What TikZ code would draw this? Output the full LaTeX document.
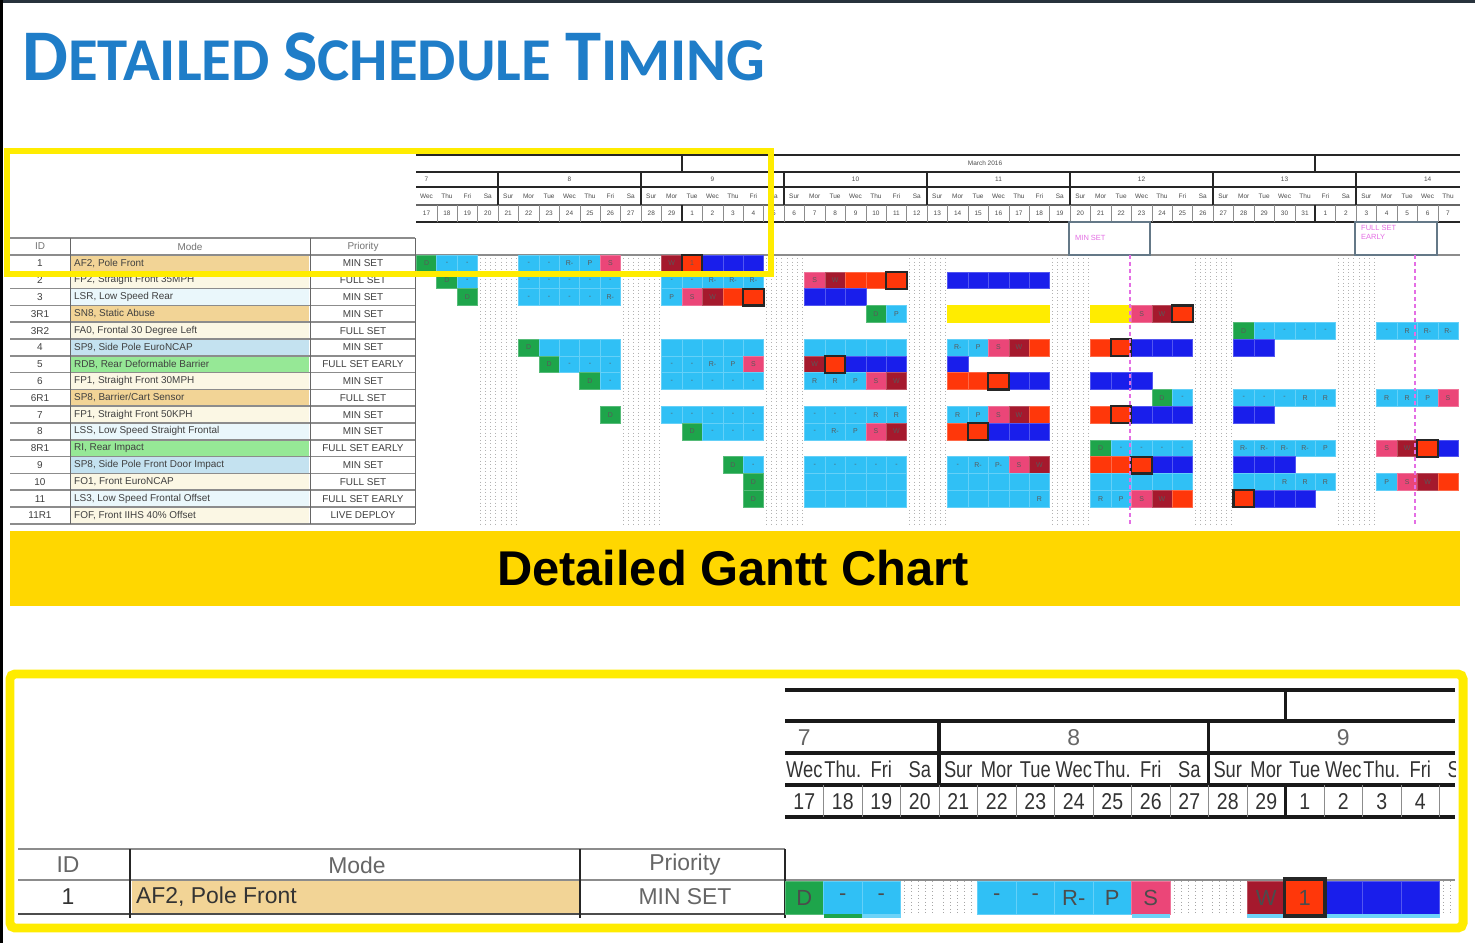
\documentclass[tikz,border=0pt]{standalone}
\usepackage{fontspec}
\setmainfont{Liberation Sans}
\newfontfamily\titlefont{Carlito}
\usetikzlibrary{calc}

\definecolor{titleblue}{RGB}{31,125,200}
\definecolor{hiyel}{RGB}{255,236,0}
\definecolor{banner}{RGB}{255,215,0}
\definecolor{edgegray}{RGB}{40,50,60}
\definecolor{barG}{RGB}{30,165,75}
\definecolor{barC}{RGB}{48,192,245}
\definecolor{barP}{RGB}{235,70,120}
\definecolor{barW}{RGB}{165,25,45}
\definecolor{barR}{RGB}{255,55,10}
\definecolor{barB}{RGB}{25,30,235}
\definecolor{barY}{RGB}{255,236,0}
\definecolor{tan}{RGB}{242,212,150}
\definecolor{cream}{RGB}{251,247,228}
\definecolor{paleblue}{RGB}{234,247,251}
\definecolor{ltblue}{RGB}{196,226,240}
\definecolor{ltgreen}{RGB}{150,232,150}
\definecolor{pinkmark}{RGB}{228,110,228}
\definecolor{boxgray}{RGB}{100,120,135}
\definecolor{gridgray}{RGB}{140,140,140}

% upper chart geometry (day width, row height, origin)
\def\ux{416.3}
\def\udw{20.43}
\def\uy{255}
\def\udh{16.8}
% lower chart geometry
\def\bx{785}
\def\bdw{38.5}
\def\by{881}
\def\bdh{33}

% one cell of the upper chart: row, day, style, label
\newcommand\GC[4]{%
  \draw[ucell,#3] ({\ux+#2*\udw},{\uy+#1*\udh}) rectangle ++(\udw,\udh);
  \node[ulab] (u-#1-#2) at ({\ux+(#2+0.5)*\udw},{\uy+(#1+0.5)*\udh}) {#4};}
% a run of equal cells: row, first day, last day, style, label
\newcommand\GR[5]{\foreach \q in {#2,...,#3}{\GC{#1}{\q}{#4}{#5}}}
% black frame round a numbered cell
\newcommand\GN[2]{\draw[numbox] ({\ux+#2*\udw},{\uy+#1*\udh}) rectangle ++(\udw,\udh);}
% one cell of the lower chart: day, style, label
\newcommand\BC[3]{%
  \draw[ucell,#2] ({\bx+#1*\bdw},\by) rectangle ++(\bdw,\bdh);
  \node[blab] (b-#1) at ({\bx+(#1+0.5)*\bdw},{\by+0.5*\bdh}) {#3};}

\begin{document}
\begin{tikzpicture}[x=1bp,y=-1bp,
  ucell/.style={line width=0.5},
  sG/.style={fill=barG,draw=barG!75!white},
  sC/.style={fill=barC,draw=barC!75!white},
  sP/.style={fill=barP,draw=barP!75!white},
  sW/.style={fill=barW,draw=barW!75!white},
  sR/.style={fill=barR,draw=barR!75!white},
  sN/.style={fill=barR,draw=barR},
  sB/.style={fill=barB,draw=barB!75!white},
  sY/.style={fill=barY,draw=barY},
  numbox/.style={draw=black!85,line width=2.2},
  ulab/.style={font=\fontsize{7}{7}\selectfont,text=black!65,inner sep=0},
  blab/.style={font=\fontsize{22}{22}\selectfont,text=black!70,inner sep=0},
  tab/.style={font=\fontsize{10}{10}\selectfont,text=black!75,inner sep=0},
  btab/.style={font=\fontsize{23}{23}\selectfont,text=black!80,inner sep=0},
  hdr/.style={font=\fontsize{6.5}{6.5}\selectfont,text=black!70,inner sep=0},
  bhdr/.style={font=\fontsize{23}{23}\selectfont,text=black!80,inner sep=0},
  hline/.style={draw=black!85,line width=2.2},
  bline/.style={draw=black!90,line width=3.5},
  gline/.style={draw=gridgray,line width=1.6},
  wkend/.style={draw=black!30,line width=0.7,dash pattern=on 0.7 off 2.8},
  marker/.style={draw=pinkmark,line width=1.5,dash pattern=on 4 off 3},
  tagbox/.style={draw=boxgray,line width=1.5,fill=white},
  tagtext/.style={font=\fontsize{7.5}{9}\selectfont,text=pinkmark,inner sep=0,align=left},
  frame/.style={draw=hiyel,line width=6},
]
\useasboundingbox (0,0) rectangle (1475,943);
\fill[white] (0,0) rectangle (1475,943);
% slide edges
\fill[edgegray] (0,0) rectangle (1475,3);
\fill[black] (0,0) rectangle (3,943);

% title
\node[anchor=base west,inner sep=0,text=titleblue,font=\titlefont\bfseries] (title) at (22,80)
  {\fontsize{73}{73}\selectfont D\fontsize{61}{61}\selectfont ETAILED
   \fontsize{73}{73}\selectfont S\fontsize{61}{61}\selectfont CHEDULE
   \fontsize{73}{73}\selectfont T\fontsize{61}{61}\selectfont IMING};

% ---------------- upper table ----------------
\foreach \i/\id/\mode/\col/\pri in {
  0/1/{AF2, Pole Front}/tan/MIN SET,
  1/2/{FP2, Straight Front 35MPH}/cream/FULL SET,
  2/3/{LSR, Low Speed Rear}/paleblue/MIN SET,
  3/3R1/{SN8, Static Abuse}/tan/MIN SET,
  4/3R2/{FA0, Frontal 30 Degree Left}/cream/FULL SET,
  5/4/{SP9, Side Pole EuroNCAP}/ltblue/MIN SET,
  6/5/{RDB, Rear Deformable Barrier}/ltgreen/FULL SET EARLY,
  7/6/{FP1, Straight Front 30MPH}/cream/MIN SET,
  8/6R1/{SP8, Barrier/Cart Sensor}/tan/FULL SET,
  9/7/{FP1, Straight Front 50KPH}/cream/MIN SET,
  10/8/{LSS, Low Speed Straight Frontal}/paleblue/MIN SET,
  11/8R1/{RI, Rear Impact}/ltgreen/FULL SET EARLY,
  12/9/{SP8, Side Pole Front Door Impact}/ltblue/MIN SET,
  13/10/{FO1, Front EuroNCAP}/cream/FULL SET,
  14/11/{LS3, Low Speed Frontal Offset}/paleblue/FULL SET EARLY,
  15/11R1/{FOF, Front IIHS 40\% Offset}/cream/LIVE DEPLOY}{
  \fill[\col] (71,{\uy+\i*\udh}) rectangle (309,{\uy+(\i+1)*\udh});
  \node[tab] (id-\i) at (40,{\uy+(\i+0.5)*\udh}) {\id};
  \node[tab,anchor=west] (mode-\i) at (74,{\uy+(\i+0.5)*\udh}) {\mode};
  \node[tab] (pri-\i) at (363,{\uy+(\i+0.5)*\udh}) {\pri};
}
\node[tab,text=black!55] (h-id) at (40,246.5) {ID};
\node[tab,text=black!55] (h-mode) at (190,246.5) {Mode};
\node[tab,text=black!55] (h-pri) at (363,246.5) {Priority};
\draw[gline] (10,238) -- (415,238);
\foreach \i in {0,...,16}{\draw[gline] (10,{\uy+\i*\udh}) -- (415,{\uy+\i*\udh});}
\foreach \x in {70,310,415}{\draw[draw=black!60,line width=1] (\x,238) -- (\x,{\uy+16*\udh});}

% ---------------- upper chart ----------------
% weekend columns
\foreach \k in {3,4,10,11,17,18,24,25,31,32,38,39,45,46}{
  \foreach \o in {3,8,13,18}{
    \draw[wkend] ({\ux+\k*\udw+\o},\uy) -- ({\ux+\k*\udw+\o},{\uy+16*\udh});}}
% header rules
\draw[hline] (416,155) -- (1460,155);
\draw[hline] (416,172) -- (1460,172);
\draw[hline] (416,187) -- (1460,187);
\draw[draw=black!60,line width=1.2] (416,205) -- (1460,205);
\draw[hline] (416,222) -- (1460,222);
\draw[gline] (416,255) -- (1460,255);
\draw[hline] (682,155) -- (682,172);
\draw[hline] (1315,155) -- (1315,172);
\foreach \j in {1,...,7}{
  \draw[hline] ({\ux+(7*\j-3)*\udw},172) -- ({\ux+(7*\j-3)*\udw},205);}
\foreach \k in {1,...,50}{
  \draw[draw=black!45,line width=0.4] ({\ux+\k*\udw},205) -- ({\ux+\k*\udw},222);}
\draw[hline] (682,205) -- (682,222);
\draw[hline] (1315,205) -- (1315,222);
\node[hdr] (month) at (985,163.5) {March 2016};
\foreach \w in {7,...,14}{
  \node[hdr] (wk-\w) at ({\ux+(7*(\w-7)+0.5)*\udw},179.5) {\w};}
\foreach \k in {0,...,50}{
  \pgfmathtruncatemacro\wdy{mod(\k+3,7)}
  \pgfmathtruncatemacro\dnum{\k<13 ? \k+17 : (\k<44 ? \k-12 : \k-43)}
  \node[hdr] (dn-\k) at ({\ux+(\k+0.5)*\udw},196) {\ifcase\wdy Sur\or Mor\or Tue\or Wec\or Thu\or Fri\or Sa\fi};
  \node[hdr] (dt-\k) at ({\ux+(\k+0.5)*\udw},213.5) {\dnum};
}
% priority tags
\draw[tagbox] (1069,222) rectangle (1150,255);
\node[tagtext,anchor=west] (tag-min) at (1075,238) {MIN SET};
\draw[tagbox] (1355,222) rectangle (1437,255);
\node[tagtext,anchor=north west] (tag-full) at (1361,225) {FULL SET\\EARLY};

% bars, row by row
\GC{0}{0}{sG}{D}\GR{0}{1}{2}{sC}{-}\GR{0}{5}{6}{sC}{-}\GC{0}{7}{sC}{R-}\GC{0}{8}{sC}{P}\GC{0}{9}{sP}{S}
\GC{0}{12}{sW}{W}\GC{0}{13}{sN}{1}\GR{0}{14}{16}{sB}{}
\GC{1}{1}{sG}{D}\GC{1}{2}{sC}{-}\GR{1}{5}{9}{sC}{-}\GR{1}{12}{13}{sC}{-}\GR{1}{14}{16}{sC}{R-}
\GC{1}{19}{sP}{S}\GC{1}{20}{sW}{W}\GR{1}{21}{22}{sR}{}\GC{1}{23}{sN}{}\GR{1}{26}{30}{sB}{}
\GC{2}{2}{sG}{D}\GR{2}{5}{8}{sC}{-}\GC{2}{9}{sC}{R-}\GC{2}{12}{sC}{P}\GC{2}{13}{sP}{S}\GC{2}{14}{sW}{W}
\GC{2}{15}{sR}{}\GC{2}{16}{sN}{}\GR{2}{19}{21}{sB}{}
\GC{3}{22}{sG}{D}\GC{3}{23}{sC}{P}\GR{3}{26}{30}{sY}{}\GR{3}{33}{34}{sY}{}\GC{3}{35}{sP}{S}\GC{3}{36}{sW}{W}\GC{3}{37}{sN}{}
\GC{4}{40}{sG}{D}\GR{4}{41}{44}{sC}{-}\GC{4}{47}{sC}{-}\GC{4}{48}{sC}{R}\GR{4}{49}{50}{sC}{R-}
\GC{5}{5}{sG}{D}\GR{5}{6}{9}{sC}{}\GR{5}{12}{16}{sC}{}\GR{5}{19}{23}{sC}{}\GC{5}{26}{sC}{R-}\GC{5}{27}{sC}{P}
\GC{5}{28}{sP}{S}\GC{5}{29}{sW}{W}\GC{5}{30}{sR}{}\GC{5}{33}{sR}{}\GC{5}{34}{sN}{}\GR{5}{35}{37}{sB}{}\GR{5}{40}{41}{sB}{}
\GC{6}{6}{sG}{D}\GR{6}{7}{9}{sC}{-}\GR{6}{12}{13}{sC}{-}\GC{6}{14}{sC}{R-}\GC{6}{15}{sC}{P}\GC{6}{16}{sP}{S}
\GC{6}{19}{sW}{W}\GC{6}{20}{sN}{}\GR{6}{21}{23}{sB}{}\GC{6}{26}{sB}{}
\GC{7}{8}{sG}{D}\GC{7}{9}{sC}{-}\GR{7}{12}{16}{sC}{-}\GR{7}{19}{20}{sC}{R}\GC{7}{21}{sC}{P}\GC{7}{22}{sP}{S}\GC{7}{23}{sW}{W}
\GR{7}{26}{27}{sR}{}\GC{7}{28}{sN}{}\GR{7}{29}{30}{sB}{}\GR{7}{33}{35}{sB}{}
\GC{8}{36}{sG}{D}\GC{8}{37}{sC}{-}\GR{8}{40}{42}{sC}{-}\GR{8}{43}{44}{sC}{R}\GR{8}{47}{48}{sC}{R}\GC{8}{49}{sC}{P}\GC{8}{50}{sP}{S}
\GC{9}{9}{sG}{D}\GR{9}{12}{16}{sC}{-}\GR{9}{19}{21}{sC}{-}\GR{9}{22}{23}{sC}{R}\GC{9}{26}{sC}{R}\GC{9}{27}{sC}{P}
\GC{9}{28}{sP}{S}\GC{9}{29}{sW}{W}\GC{9}{30}{sR}{}\GC{9}{33}{sR}{}\GC{9}{34}{sN}{}\GR{9}{35}{37}{sB}{}\GR{9}{40}{41}{sB}{}
\GC{10}{13}{sG}{D}\GR{10}{14}{16}{sC}{-}\GC{10}{19}{sC}{-}\GC{10}{20}{sC}{R-}\GC{10}{21}{sC}{P}\GC{10}{22}{sP}{S}\GC{10}{23}{sW}{W}
\GC{10}{26}{sR}{}\GC{10}{27}{sN}{}\GR{10}{28}{30}{sB}{}
\GC{11}{33}{sG}{D}\GR{11}{34}{37}{sC}{-}\GR{11}{40}{43}{sC}{R-}\GC{11}{44}{sC}{P}\GC{11}{47}{sP}{S}\GC{11}{48}{sW}{W}\GC{11}{49}{sN}{}\GC{11}{50}{sB}{}
\GC{12}{15}{sG}{D}\GC{12}{16}{sC}{-}\GR{12}{19}{23}{sC}{-}\GC{12}{26}{sC}{-}\GC{12}{27}{sC}{R-}\GC{12}{28}{sC}{P-}\GC{12}{29}{sP}{S}\GC{12}{30}{sW}{W}
\GR{12}{33}{34}{sR}{}\GC{12}{35}{sN}{}\GR{12}{36}{37}{sB}{}\GR{12}{40}{42}{sB}{}
\GC{13}{16}{sG}{D}\GR{13}{19}{23}{sC}{}\GR{13}{26}{30}{sC}{}\GR{13}{33}{37}{sC}{}\GR{13}{40}{41}{sC}{}\GR{13}{42}{44}{sC}{R}
\GC{13}{47}{sC}{P}\GC{13}{48}{sP}{S}\GC{13}{49}{sW}{W}\GC{13}{50}{sR}{}
\GC{14}{16}{sG}{D}\GR{14}{19}{23}{sC}{}\GR{14}{26}{29}{sC}{}\GC{14}{30}{sC}{R}\GC{14}{33}{sC}{R}\GC{14}{34}{sC}{P}
\GC{14}{35}{sP}{S}\GC{14}{36}{sW}{W}\GC{14}{37}{sR}{}\GC{14}{40}{sN}{}\GR{14}{41}{43}{sB}{}
% frames round numbered cells
\GN{0}{13}\GN{1}{23}\GN{2}{16}\GN{3}{37}\GN{5}{34}\GN{6}{20}\GN{7}{28}\GN{9}{34}\GN{10}{27}\GN{11}{49}\GN{12}{35}\GN{14}{40}
% milestone markers
\draw[marker] (1130,255) -- (1130,526);
\draw[marker] (1415,255) -- (1415,526);

% highlight of the first row
\draw[frame] (7,151) rectangle (771,274);

% ---------------- banner ----------------
\fill[banner] (10,531) rectangle (1460,606);
\node[anchor=base,inner sep=0,font=\bfseries\fontsize{49}{49}\selectfont] (banner) at (733,585) {Detailed Gantt Chart};

% ---------------- enlarged first row ----------------
\fill[tan] (132,881) rectangle (579,913);
\node[btab,text=black!60] (bh-id) at (68,865) {ID};
\node[btab,text=black!60] (bh-mode) at (357,865) {Mode};
\node[btab,text=black!60] (bh-pri) at (685,865) {Priority};
\node[btab] (b-id) at (68,897) {1};
\node[btab,anchor=west] (b-mode) at (136,897) {AF2, Pole Front};
\node[btab,text=black!60] (b-pri) at (685,897) {MIN SET};
\draw[gline,line width=2.5] (18,849) -- (785,849);
\draw[gline,line width=2.5] (18,880) -- (1455,880);
\draw[draw=black!70,line width=2.5] (18,914) -- (785,914);
\foreach \x in {130,580,785}{\draw[draw=black!85,line width=1.8] (\x,849) -- (\x,918);}

\begin{scope}
\clip (785,680) rectangle (1455,925);
% weekend columns
\foreach \k in {3,4,10,11,17}{
  \foreach \o in {4,11,18,25,32}{
    \draw[wkend,draw=black!35,line width=1] ({\bx+\k*\bdw+\o},\by) -- ({\bx+\k*\bdw+\o},{\by+\bdh});}}
% header rules
\foreach \y in {690,721,753,785,817}{\draw[bline] (785,\y) -- (1455,\y);}
\draw[bline] ({\bx+13*\bdw},690) -- ({\bx+13*\bdw},721);
\draw[bline] ({\bx+4*\bdw},721) -- ({\bx+4*\bdw},785);
\draw[bline] ({\bx+11*\bdw},721) -- ({\bx+11*\bdw},785);
\foreach \k in {1,...,17}{
  \draw[draw=black!45,line width=0.6] ({\bx+\k*\bdw},785) -- ({\bx+\k*\bdw},817);}
\draw[bline] ({\bx+13*\bdw},785) -- ({\bx+13*\bdw},817);
\foreach \w in {7,8,9}{
  \node[bhdr,text=black!60] (bw-\w) at ({\bx+(7*(\w-7)+0.5)*\bdw},737.5) {\w};}
\foreach \k in {0,...,17}{
  \pgfmathtruncatemacro\wdy{mod(\k+3,7)}
  \node[bhdr,xscale=0.8] (bdn-\k) at ({\bx+(\k+0.5)*\bdw},769.5) {\ifcase\wdy Sur\or Mor\or Tue\or Wec\or Thu.\or Fri\or Sa\fi};}
\foreach \k in {0,...,16}{
  \pgfmathtruncatemacro\dnum{\k<13 ? \k+17 : \k-12}
  \node[bhdr,xscale=0.85] (bdt-\k) at ({\bx+(\k+0.5)*\bdw},801.5) {\dnum};}
% bars
\BC{0}{sG}{D}\BC{1}{sC}{-}\BC{2}{sC}{-}\BC{5}{sC}{-}\BC{6}{sC}{-}\BC{7}{sC}{R-}\BC{8}{sC}{P}\BC{9}{sP}{S}
\BC{12}{sW}{W}\BC{13}{sN}{1}\BC{14}{sB}{}\BC{15}{sB}{}\BC{16}{sB}{}
\fill[barG] ({\bx+1*\bdw},914) rectangle ++(\bdw,4);
\foreach \k in {2,9,12,13,14,15,16}{\fill[barC!70!white] ({\bx+\k*\bdw},914) rectangle ++(\bdw,4);}
\draw[draw=black!85,line width=3.5] ({\bx+13*\bdw-1},879) rectangle ++({\bdw+2},37);
\end{scope}

\draw[hiyel,line width=9,rounded corners=5] (10,674) rectangle (1463,928);
\end{tikzpicture}
\end{document}
